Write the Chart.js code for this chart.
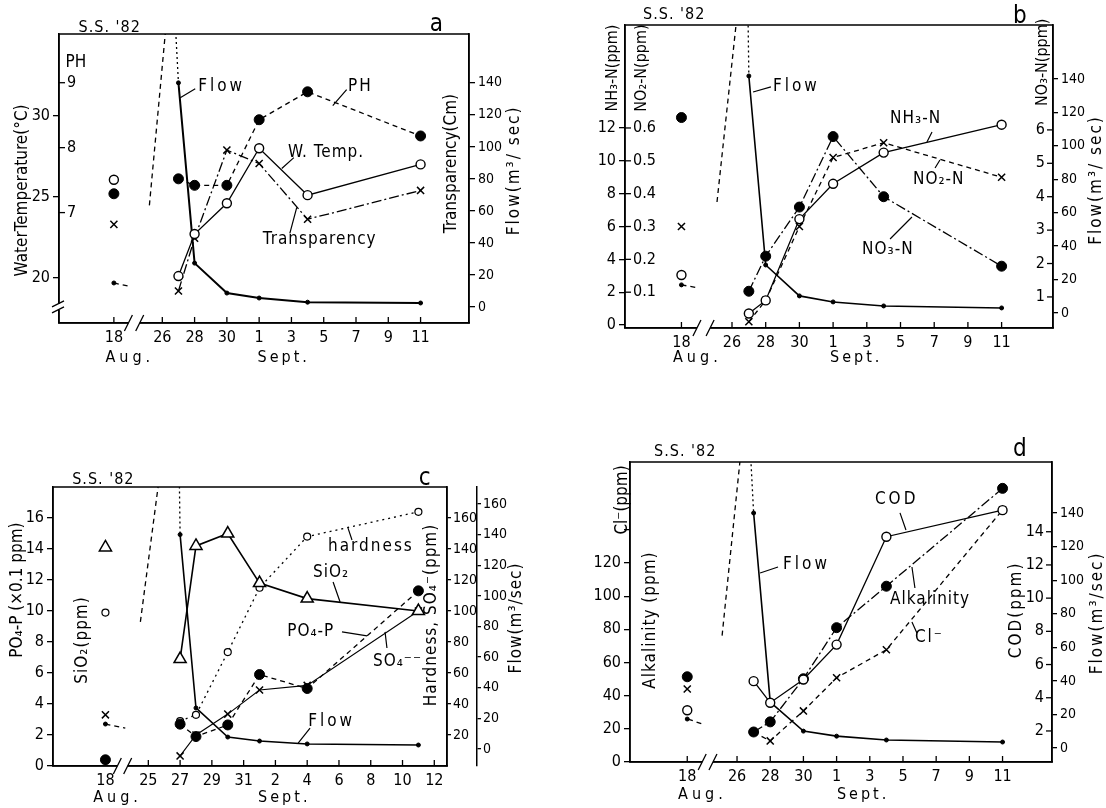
<!DOCTYPE html>
<html>
<head>
<meta charset="utf-8">
<script src="https://cdn.jsdelivr.net/npm/chart.js@4.4.1/dist/chart.umd.min.js"></script>
<style>
  body { margin: 0; background: #fff; }
  #wrap { position: relative; width: 1106px; height: 808px; }
  canvas { position: absolute; }
</style>
</head>
<body>
<div id="wrap">
  <canvas id="chart-a" width="553" height="400" style="left:0;top:0"></canvas>
  <canvas id="chart-b" width="553" height="400" style="left:553px;top:0"></canvas>
  <canvas id="chart-c" width="553" height="408" style="left:0;top:400px"></canvas>
  <canvas id="chart-d" width="553" height="408" style="left:553px;top:400px"></canvas>
</div>
<script>
const FONT = "'Liberation Sans Narrow', 'DejaVu Sans Condensed', 'Liberation Sans', sans-serif";

// sampling days: Aug 18, Aug 27, Aug 28, Aug 30, Sep 1, Sep 4, Sep 11
// day axis: Aug 26 = 0, broken between Aug 18 and Aug 26
const dayPos = [-3, 1, 2, 4, 6, 9, 16];
const dayPosC = [-3.7, 1, 2, 4, 6, 9, 16];

const xTicks = [-3, 0, 2, 4, 6, 8, 10, 12, 14, 16];
const xLabels = ['18', '26', '28', '30', '1', '3', '5', '7', '9', '11'];
const xTicksC = [-3.7, -1, 1, 3, 5, 7, 9, 11, 13, 15, 17];
const xLabelsC = ['18', '25', '27', '29', '31', '2', '4', '6', '8', '10', '12'];

// a : water temperature, pH, transparency
const waterTemp = [26.05, 20.1, 22.7, 24.6, 28.0, 25.1, 27.0];
const pH = [7.29, 7.52, 7.42, 7.42, 8.43, 8.86, 8.18];
const transparency = [51.6, 10, 43, 98, 89.6, 54.8, 72.8];
const flowA = [15, 140, 27.4, 8.7, 5.6, 3, 2.5];
const flowStubA = [[-3, 15], [-2.1, 13]];
const flowRiseA = [[-0.8, 63.5], [0.25, 178]];
const flowFallA = [[0.8, 178], [1, 140]];
const tempTicks = [20, 25, 30];
const pHTicks = [7, 8, 9];
const flowTicks = [0, 20, 40, 60, 80, 100, 120, 140];

// b : nitrogen
const nh3 = [3.05, 0.7, 1.5, 6.45, 8.6, 10.5, 12.2];
const no2 = [0.3, 0.01, 0.075, 0.3, 0.51, 0.555, 0.45];
const no3 = [6.37, 1.17, 2.22, 3.69, 5.8, 4.0, 1.92];
const flowB = [16.8, 141.8, 28.7, 10.2, 6.6, 4.2, 3.0];
const flowStubB = [[-3, 16.8], [-2.0, 15]];
const flowRiseB = [[-0.89, 66.4], [0.3, 178]];
const flowFallB = [[0.95, 178], [1, 141.8]];
const nh3Ticks = [0, 2, 4, 6, 8, 10, 12];
const no2Ticks = [0.1, 0.2, 0.3, 0.4, 0.5, 0.6];
const no2Labels = ['0.1', '0.2', '0.3', '0.4', '0.5', '0.6'];
const no3Ticks = [1, 2, 3, 4, 5, 6];

// c : PO4-P, SiO2, hardness, SO4
const siO2 = [14.1, 6.9, 14.2, 15.0, 11.8, 10.8, 10.0];
const po4 = [0.4, 2.7, 1.9, 2.65, 5.9, 5.0, 11.3];
const hardness = [99, 29, 33, 73.5, 115, 148, 164];
const so4 = [33, 6.5, 20, 33.5, 49, 52, 100];
const flowC = [16.3, 140, 26.8, 7.8, 5.2, 3.3, 2.6];
const flowStubC = [[-3.7, 16.3], [-2.45, 13.7]];
const flowRiseC = [[-1.5, 83], [-0.3, 178]];
const flowFallC = [[0.95, 178], [1, 140]];
const leftTicksC = [0, 2, 4, 6, 8, 10, 12, 14, 16];
const hardTicks = [20, 40, 60, 80, 100, 120, 140, 160];
const flowTicksC = [0, 20, 40, 60, 80, 100, 120, 140, 160];

// d : alkalinity, Cl-, COD
const alkalinity = [51.4, 18.1, 24.2, 50.2, 81, 106, 165];
const chloride = [44, 18, 12.7, 30.8, 50.8, 67.7, 152];
const cod = [3.25, 5.0, 3.7, 5.1, 7.2, 13.7, 15.3];
const flowD = [17.3, 140, 27.4, 10.1, 7.1, 4.8, 3.6];
const flowStubD = [[-2.95, 17.3], [-2.1, 14.3]];
const flowRiseD = [[-0.9, 67], [0.25, 178]];
const flowFallD = [[0.8, 178], [1, 140]];
const alkTicks = [0, 20, 40, 60, 80, 100, 120, 140];
const alkLabels = ['0', '20', '40', '60', '80', '100', '120', ''];
const codTicks = [2, 4, 6, 8, 10, 12, 14];

const SOLID = [];
const DASH = [5, 4];
const DASHDOT = [10, 3, 2, 3];
const DOTTED = [2, 4];

const OPEN = { pointStyle: 'circle', pointRadius: 4.5, pointBackgroundColor: '#fff', pointBorderColor: '#000', pointBorderWidth: 1.4 };
const OPEN_S = { pointStyle: 'circle', pointRadius: 3.5, pointBackgroundColor: '#fff', pointBorderColor: '#000', pointBorderWidth: 1.2 };
const FILLED = { pointStyle: 'circle', pointRadius: 5, pointBackgroundColor: '#000', pointBorderColor: '#000', pointBorderWidth: 1 };
const CROSS = { pointStyle: 'crossRot', pointRadius: 5, pointBorderColor: '#000', pointBorderWidth: 1.5 };
const DOT = { pointStyle: 'circle', pointRadius: 2, pointBackgroundColor: '#000', pointBorderColor: '#000', pointBorderWidth: 1 };
const TRI = { pointStyle: 'triangle', pointRadius: 7, pointBackgroundColor: '#fff', pointBorderColor: '#000', pointBorderWidth: 1.5 };

// series; the Aug 18 -> Aug 27 segment is not drawn
const line = (xs, ys, axis, marker, dash, width) => ({
  data: ys.map((y, i) => ({ x: xs[i], y: y })),
  yAxisID: axis,
  borderColor: '#000',
  borderWidth: width || 1.3,
  borderDash: dash,
  ...marker,
  segment: { borderColor: (c) => (c.p0DataIndex === 0 ? 'rgba(0,0,0,0)' : undefined) },
});

const trace = (pairs, axis, dash) => ({
  data: pairs.map((p) => ({ x: p[0], y: p[1] })),
  yAxisID: axis,
  borderColor: '#000',
  borderWidth: 1.3,
  borderDash: dash,
  pointRadius: 0,
});

const dayAxis = (min, max, ticks, labels) => ({
  type: 'linear',
  position: 'bottom',
  min: min,
  max: max,
  afterBuildTicks: (s) => { s.ticks = ticks.map((v) => ({ value: v })); },
  afterFit: (s) => { s.height = 30; },
  ticks: { callback: (v, i) => labels[i], font: { family: FONT, size: 16 }, color: '#000', padding: 5, autoSkip: false, maxRotation: 0 },
  grid: { display: false, drawTicks: false },
  border: { color: '#000', width: 1.5 },
});

const outerAxis = (pos, min, max, ticks, labels, width, weight, size, tl, pad) => ({
  type: 'linear',
  position: pos,
  min: min,
  max: max,
  weight: weight || 0,
  afterBuildTicks: (s) => { s.ticks = ticks.map((v) => ({ value: v })); },
  afterFit: (s) => { s.width = width; },
  ticks: { callback: (v, i) => labels[i], font: { family: FONT, size: size || 16 }, color: '#000', padding: pad || 3, autoSkip: false },
  grid: { drawOnChartArea: false, color: '#000', lineWidth: 1.3, tickLength: tl || 6 },
  border: { color: '#000', width: 1.5 },
});

const innerAxis = (pos, min, max) => ({ type: 'linear', position: pos, min: min, max: max, display: false });

const str = (arr) => arr.map((v) => String(v));

// frame, inward day ticks, axis breaks, inner axes, labels
const paper = {
  id: 'paper',
  afterDraw(chart, args, o) {
    const ctx = chart.ctx;
    const a = chart.chartArea;
    const xs = chart.scales.x;
    const X = (v) => xs.getPixelForValue(v);
    const Y = (v) => chart.scales[o.axis].getPixelForValue(v);
    ctx.save();
    ctx.strokeStyle = '#000';
    ctx.fillStyle = '#000';
    ctx.lineWidth = 1.5;
    ctx.strokeRect(a.left, a.top, a.right - a.left, a.bottom - a.top);

    ctx.lineWidth = 1.3;
    ctx.beginPath();
    xs.ticks.forEach((t) => {
      ctx.moveTo(X(t.value), a.bottom);
      ctx.lineTo(X(t.value), a.bottom - 6);
    });
    ctx.stroke();

    const b1 = X(o.brk[0]);
    const b2 = X(o.brk[1]);
    ctx.fillStyle = '#fff';
    ctx.fillRect(b1, a.bottom - 3, b2 - b1, 6);
    ctx.fillStyle = '#000';
    ctx.beginPath();
    [b1, b2].forEach((px) => {
      ctx.moveTo(px - 4, a.bottom + 8);
      ctx.lineTo(px + 4, a.bottom - 8);
    });
    ctx.stroke();

    if (o.ybrk) {
      const py = chart.scales[o.ybrk.id].getPixelForValue(o.ybrk.v);
      ctx.fillStyle = '#fff';
      ctx.fillRect(a.left - 3, py - 3, 6, 6);
      ctx.fillStyle = '#000';
      ctx.beginPath();
      [py - 3, py + 3].forEach((q) => {
        ctx.moveTo(a.left - 7, q + 3);
        ctx.lineTo(a.left + 5, q - 3);
      });
      ctx.stroke();
    }

    ctx.font = '16px ' + FONT;
    ctx.textBaseline = 'middle';
    (o.inner || []).forEach((ax) => {
      const s = chart.scales[ax.id];
      const x0 = ax.side === 'left' ? a.left : a.right;
      const dir = ax.side === 'left' ? 1 : -1;
      ctx.textAlign = ax.side === 'left' ? 'left' : 'right';
      ax.ticks.forEach((v, i) => {
        const py = s.getPixelForValue(v);
        ctx.beginPath();
        ctx.moveTo(x0, py);
        ctx.lineTo(x0 + dir * 6, py);
        ctx.stroke();
        ctx.fillText(ax.labels[i], x0 + dir * 8, py);
      });
    });

    ctx.lineWidth = 1.2;
    ctx.beginPath();
    (o.leaders || []).forEach((l) => {
      ctx.moveTo(X(l[0]), Y(l[1]));
      ctx.lineTo(X(l[2]), Y(l[3]));
    });
    ctx.stroke();

    (o.notes || []).forEach((n) => {
      ctx.save();
      ctx.font = (n.size || 17) + 'px ' + FONT;
      ctx.letterSpacing = (n.sp || 0) + 'px';
      ctx.textBaseline = 'middle';
      ctx.translate(X(n.x), Y(n.y));
      if (n.rot) {
        ctx.rotate(-Math.PI / 2);
        ctx.textAlign = 'center';
      } else {
        ctx.textAlign = n.align || 'left';
      }
      ctx.fillText(n.t, 0, 0);
      ctx.restore();
    });
    ctx.restore();
  },
};

const makeChart = (id, padding, datasets, scales, paperOpts) => {
  new Chart(document.getElementById(id), {
    type: 'line',
    data: { datasets: datasets },
    options: {
      responsive: false,
      devicePixelRatio: 1,
      animation: false,
      events: [],
      layout: { padding: padding },
      scales: scales,
      plugins: { legend: { display: false }, tooltip: { enabled: false }, paper: paperOpts },
    },
    plugins: [paper],
  });
};

// a
makeChart('chart-a', { left: 10, right: 34, top: 34, bottom: 47 }, [
  line(dayPos, waterTemp, 'yT', OPEN, SOLID),
  line(dayPos, pH, 'yPH', FILLED, DASH),
  line(dayPos, transparency, 'yR', CROSS, DASHDOT),
  line(dayPos, flowA, 'yR', DOT, SOLID, 2),
  trace(flowStubA, 'yR', DASH),
  trace(flowRiseA, 'yR', DASH),
  trace(flowFallA, 'yR', [2, 3]),
], {
  x: dayAxis(-6.4, 19, xTicks, xLabels),
  yT: outerAxis('left', 17.2, 35.06, tempTicks, str(tempTicks), 49, 1),
  yPH: innerAxis('left', 5.3, 9.75),
  yR: outerAxis('right', -10, 170.5, flowTicks, str(flowTicks), 50, 0, 14, 6, 3),
}, {
  axis: 'yR',
  brk: [-2.1, -1.4],
  ybrk: { id: 'yT', v: 18.2 },
  inner: [{ id: 'yPH', side: 'left', ticks: pHTicks, labels: str(pHTicks) }],
  leaders: [[1.11, 130.7, 2.04, 136.3], [10.56, 125.7, 11.42, 135.7], [7.4, 86.5, 8.15, 93.3], [8.33, 62.2, 7.9, 46.0]],
  notes: [
    { t: "S.S. '82", x: -5.19, y: 174.2, size: 16, sp: 1 },
    { t: 'a', x: 16.98, y: 176.5, size: 24, align: 'center' },
    { t: 'Flow', x: 2.22, y: 137.5, sp: 3 },
    { t: 'PH', x: 11.5, y: 137.5, sp: 2 },
    { t: 'W. Temp.', x: 7.78, y: 96.5, sp: 1 },
    { t: 'Transparency', x: 6.23, y: 42.3, sp: 1 },
    { t: 'Aug.', x: -3.52, y: -31.7, sp: 4, size: 16 },
    { t: 'Sept.', x: 5.9, y: -31.7, sp: 3, size: 16 },
    { t: 'WaterTemperature(°C)', x: -8.64, y: 72.8, rot: true },
    { t: 'PH', x: -5.99, y: 152.5 },
    { t: 'Transparency(Cm)', x: 17.9, y: 89.6, rot: true },
    { t: 'Flow(m³/ sec)', x: 21.8, y: 85.3, rot: true, sp: 2 },
  ],
});

// b
makeChart('chart-b', { left: 15, right: 3, top: 25, bottom: 42 }, [
  line(dayPos, nh3, 'yN', OPEN, SOLID),
  line(dayPos, no2, 'yNO2', CROSS, DASH),
  line(dayPos, no3, 'yNO3', FILLED, DASHDOT),
  line(dayPos, flowB, 'yF', DOT, SOLID, 1.6),
  trace(flowStubB, 'yF', DASH),
  trace(flowRiseB, 'yF', DASH),
  trace(flowFallB, 'yF', [2, 3]),
], {
  x: dayAxis(-6.35, 19.05, xTicks, xLabels),
  yN: outerAxis('left', -0.18, 18.27, nh3Ticks, str(nh3Ticks), 57),
  yNO2: innerAxis('left', -0.009, 0.9135),
  yNO3: innerAxis('right', 0.07, 9.14),
  yF: outerAxis('right', -9.0, 172.3, flowTicks, str(flowTicks), 50, 1, 14, 5, 3),
}, {
  axis: 'yN',
  brk: [-2.08, -1.3],
  inner: [
    { id: 'yNO2', side: 'left', ticks: no2Ticks, labels: no2Labels },
    { id: 'yNO3', side: 'right', ticks: no3Ticks, labels: str(no3Ticks) },
  ],
  leaders: [[1.25, 14.19, 2.31, 14.5], [11.57, 11.15, 11.87, 11.75], [12.34, 10.05, 12.05, 9.56], [10.68, 6.58, 9.38, 5.24]],
  notes: [
    { t: "S.S. '82", x: -5.28, y: 18.88, size: 16, sp: 1 },
    { t: 'b', x: 17.09, y: 18.8, size: 24, align: 'center' },
    { t: 'Flow', x: 2.43, y: 14.5, sp: 3 },
    { t: 'NH₃-N', x: 9.38, y: 12.6, sp: 1 },
    { t: 'NO₂-N', x: 10.74, y: 8.83, sp: 1 },
    { t: 'NO₃-N', x: 7.72, y: 4.57, sp: 1 },
    { t: 'Aug.', x: -3.5, y: -2.0, sp: 4, size: 16 },
    { t: 'Sept.', x: 5.82, y: -2.0, sp: 3, size: 16 },
    { t: 'NH₃-N(ppm)', x: -7.06, y: 15.65, rot: true, size: 16 },
    { t: 'NO₂-N(ppm)', x: -5.34, y: 15.65, rot: true, size: 16 },
    { t: 'NO₃-N(ppm)', x: 18.46, y: 16.0, rot: true, size: 16 },
    { t: 'Flow(m³/ sec)', x: 21.62, y: 8.83, rot: true, sp: 2 },
  ],
});

// c
makeChart('chart-c', { left: 10, right: 33, top: 87, bottom: 12 }, [
  line(dayPosC, siO2, 'yL', TRI, SOLID, 1.6),
  line(dayPosC, po4, 'yL', FILLED, DASH),
  line(dayPosC, hardness, 'yH', OPEN_S, DOTTED),
  line(dayPosC, so4, 'yH', CROSS, SOLID, 1.1),
  line(dayPosC, flowC, 'yF', DOT, SOLID, 1.6),
  trace(flowStubC, 'yF', DASH),
  trace(flowRiseC, 'yF', DASH),
  trace(flowFallC, 'yF', [2, 3]),
], {
  x: dayAxis(-7.0, 17.8, xTicksC, xLabelsC),
  yL: outerAxis('left', 0, 18, leftTicksC, str(leftTicksC), 43),
  yH: outerAxis('right', 0, 180, hardTicks, str(hardTicks), 30, 0, 14, 4, 2),
  yF: outerAxis('right', -11.1, 171.1, flowTicksC, str(flowTicksC), 43, 1, 14, 4, 2),
}, {
  axis: 'yL',
  brk: [-2.95, -2.3],
  leaders: [[11.57, 15.35, 11.82, 14.58], [10.63, 11.87, 11.07, 10.58], [11.19, 8.65, 12.77, 8.39], [13.9, 8.65, 14.02, 7.61], [9.18, 2.45, 8.43, 1.48]],
  notes: [
    { t: "S.S. '82", x: -5.79, y: 18.45, size: 16, sp: 1 },
    { t: 'c', x: 16.4, y: 18.5, size: 24, align: 'center' },
    { t: 'hardness', x: 10.31, y: 14.13, sp: 2 },
    { t: 'SiO₂', x: 9.37, y: 12.45, sp: 1 },
    { t: 'PO₄-P', x: 7.74, y: 8.65, sp: 1 },
    { t: 'SO₄⁻⁻', x: 13.14, y: 6.71, sp: 1 },
    { t: 'Flow', x: 9.06, y: 2.84, sp: 3 },
    { t: 'Aug.', x: -4.47, y: -2.06, sp: 4, size: 16 },
    { t: 'Sept.', x: 5.91, y: -2.06, sp: 3, size: 16 },
    { t: 'PO₄-P (×0.1 ppm)', x: -9.25, y: 11.35, rot: true },
    { t: 'SiO₂(ppm)', x: -5.16, y: 8.13, rot: true, sp: 1 },
    { t: 'Hardness, SO₄⁻(ppm)', x: 16.86, y: 9.74, rot: true, sp: 1 },
    { t: 'Flow(m³/sec)', x: 22.2, y: 9.55, rot: true, sp: 1 },
  ],
});

// d
makeChart('chart-d', { left: 10, right: 4, top: 62, bottom: 16 }, [
  line(dayPos, cod, 'yCOD', OPEN, SOLID),
  line(dayPos, alkalinity, 'yA', FILLED, DASHDOT),
  line(dayPos, chloride, 'yA', CROSS, DASH),
  line(dayPos, flowD, 'yF', DOT, SOLID, 1.6),
  trace(flowStubD, 'yF', DASH),
  trace(flowRiseD, 'yF', DASH),
  trace(flowFallD, 'yF', [2, 3]),
], {
  x: dayAxis(-6.45, 18.98, xTicks, xLabels),
  yA: outerAxis('left', 0, 180.9, alkTicks, alkLabels, 67),
  yCOD: innerAxis('right', 0.13, 18.2),
  yF: outerAxis('right', -8.3, 170.4, flowTicks, str(flowTicks), 50, 1, 14, 5, 3),
}, {
  axis: 'yA',
  brk: [-2.1, -1.45],
  inner: [{ id: 'yCOD', side: 'right', ticks: codTicks, labels: str(codTicks) }],
  leaders: [[1.39, 114, 2.47, 117.6], [9.82, 150.2, 10.18, 139.9], [10.54, 117.6, 10.72, 104.9], [10.54, 84.4, 10.84, 77.8]],
  notes: [
    { t: "S.S. '82", x: -5.0, y: 187, size: 16, sp: 1 },
    { t: 'd', x: 17.05, y: 188.2, size: 24, align: 'center' },
    { t: 'Flow', x: 2.77, y: 118.8, sp: 3 },
    { t: 'COD', x: 8.31, y: 158, sp: 3 },
    { t: 'Alkalinity', x: 9.22, y: 97.7, sp: 1 },
    { t: 'Cl⁻', x: 10.72, y: 74.8, sp: 2 },
    { t: 'Aug.', x: -3.55, y: -19.9, sp: 4, size: 16 },
    { t: 'Sept.', x: 6.02, y: -19.9, sp: 3, size: 16 },
    { t: 'Cl⁻(ppm)', x: -6.87, y: 158, rot: true },
    { t: 'Alkalinity (ppm)', x: -5.24, y: 85.6, rot: true, sp: 1 },
    { t: 'COD(ppm)', x: 16.87, y: 91.7, rot: true, sp: 2 },
    { t: 'Flow(m³/sec)', x: 21.75, y: 89.9, rot: true, sp: 2 },
  ],
});
</script>
</body>
</html>
